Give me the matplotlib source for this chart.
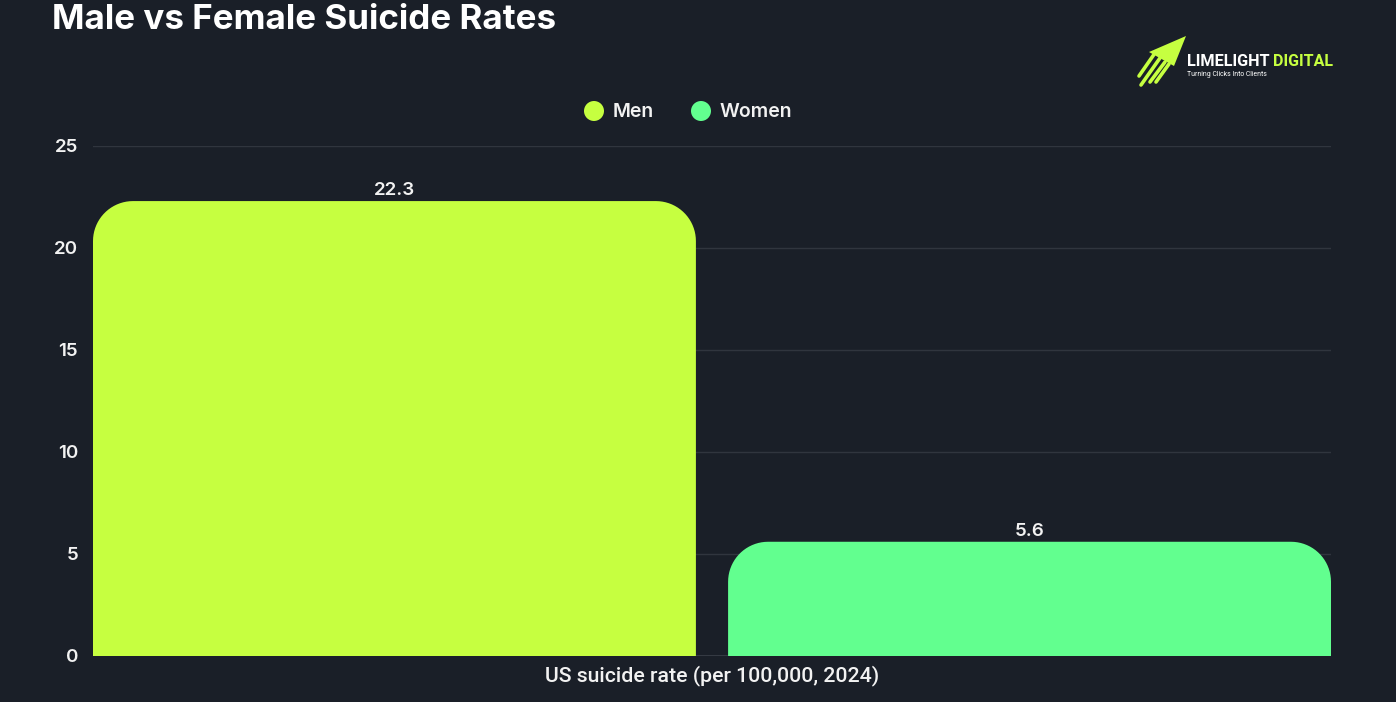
import numpy as np
import matplotlib
matplotlib.use("Agg")
import matplotlib.pyplot as plt
from matplotlib.path import Path
from matplotlib.patches import PathPatch, Polygon, Circle
from matplotlib.transforms import IdentityTransform

# ---- data ----
category = "US suicide rate (per 100,000, 2024)"
series_names = ["Men", "Women"]
values = [22.3, 5.6]
colors = ["#c6ff40", "#62ff8f"]
yticks = [0, 5, 10, 15, 20, 25]
title = "Male vs Female Suicide Rates"

BG = "#1a1f28"
W, H = 1396, 702
fig = plt.figure(figsize=(W / 100, H / 100), dpi=100, facecolor=BG)

def px(x0, y0, x1, y1):
    return [x0 / W, 1 - y1 / H, (x1 - x0) / W, (y1 - y0) / H]

ax = fig.add_axes(px(93, 146, 1331, 656))
ax.set_facecolor(BG)
ax.set_xlim(-0.5, 0.5)
ax.set_ylim(0, 25)
for s in ax.spines.values():
    s.set_visible(False)
ax.set_yticks(yticks)
ax.set_yticklabels([str(t) for t in yticks], family="Inter", fontsize=13.5, color="#f2f2f2", fontweight="semibold")
ax.tick_params(axis="y", length=0, pad=10.8)
for lbl in ax.get_yticklabels():
    lbl.set_y(lbl.get_position()[1])
ax.set_xticks([])
ax.grid(axis="y", color="#30353e", linewidth=1)
ax.set_axisbelow(True)
ax.axhline(0, color="#3a3f48", linewidth=1.2, zorder=1)

width = 0.487
offsets = [-0.2565, 0.2565]
bars = ax.bar(offsets, values, width=width, color=colors, alpha=0)

fig.canvas.draw()
R = 40
for b, c, v in zip(bars, colors, values):
    (x0, y0), (x1, y1) = ax.transData.transform([[b.get_x(), 0], [b.get_x() + b.get_width(), b.get_height()]])
    r = min(R, (y1 - y0), (x1 - x0) / 2)
    verts = [(x0, y0), (x0, y1 - r)]
    t = np.linspace(np.pi, np.pi / 2, 20)
    verts += [(x0 + r + r * np.cos(a), y1 - r + r * np.sin(a)) for a in t]
    t = np.linspace(np.pi / 2, 0, 20)
    verts += [(x1 - r + r * np.cos(a), y1 - r + r * np.sin(a)) for a in t]
    verts += [(x1, y0), (x0, y0)]
    path = Path(verts)
    ax.add_patch(PathPatch(path, facecolor=c, edgecolor="none", transform=IdentityTransform(), zorder=3, clip_on=False))
    ax.annotate(f"{v}", (b.get_x() + b.get_width() / 2, v), xytext=(0, 1.5), textcoords="offset points",
                ha="center", va="bottom", family="Inter", fontsize=13.5, color="#f2f2f2", fontweight="semibold")

fig.text(712 / W, 1 - 676 / H, category, ha="center", va="center",
         family="Roboto", fontsize=15.3, color="#f2f2f2", fontweight="medium")

# title
fig.text(52 / W, 1 - 20 / H, title, ha="left", va="center", family="Inter", fontweight="bold",
         fontsize=25.2, color="#ffffff")

# legend
for (cx, tx, name, c) in [(594, 613, series_names[0], colors[0]), (701, 720, series_names[1], colors[1])]:
    fig.patches.append(Circle((cx, H - 111), 10, transform=IdentityTransform(), facecolor=c, edgecolor="none"))
    fig.text(tx / W, 1 - 112 / H, name, ha="left", va="center", family="Inter", fontsize=14,
             color="#f2f2f2", fontweight="semibold")

# logo
lime = "#c6ff40"
fig.patches.append(Polygon([(1186, H - 36), (1149, H - 52), (1174, H - 66)], closed=True,
                           transform=IdentityTransform(), facecolor=lime, edgecolor="none"))
streaks = [((1155, 53), (1139, 76)), ((1160, 58), (1141, 85)), ((1165, 62), (1150, 82)), ((1169, 64), (1156, 82))]
for (a, b) in streaks:
    fig.lines.append(plt.Line2D([a[0], b[0]], [H - a[1], H - b[1]], transform=IdentityTransform(),
                                color=lime, linewidth=2.6, solid_capstyle="round"))

renderer = fig.canvas.get_renderer()
def fit_text(x_left, x_right, y, s, color, weight, base=12):
    t = fig.text(x_left / W, 1 - y / H, s, ha="left", va="center", family="Roboto",
                 fontweight=weight, fontsize=base, color=color)
    w = t.get_window_extent(renderer).width
    t.set_fontsize(base * (x_right - x_left) / w)
    return t

fit_text(1187, 1270, 61, "LIMELIGHT", "#ffffff", "bold")
fit_text(1273, 1333, 61, "DIGITAL", lime, "bold")
fit_text(1187, 1268, 74, "Turning Clicks Into Clients", "#ffffff", "normal", base=5)

fig.savefig("out.png", dpi=100, facecolor=BG)
